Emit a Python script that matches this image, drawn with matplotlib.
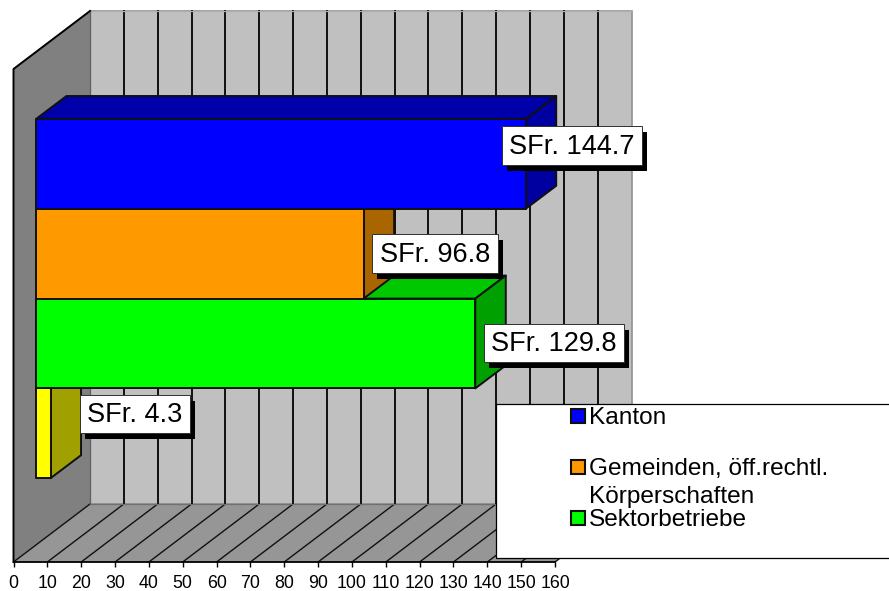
#!/usr/bin/python3

import matplotlib
matplotlib.use('Agg')
import matplotlib.pyplot as plt
from matplotlib.patches import Polygon, Rectangle

plt.rcParams['font.family'] = ['Liberation Sans', 'DejaVu Sans']

# data
series_names = ['Kanton', 'Gemeinden, öff.rechtl.\nKörperschaften', 'Sektorbetriebe', '']
series_values = [144.7, 96.8, 129.8, 4.3]
value_labels = ['SFr. 144.7', 'SFr. 96.8', 'SFr. 129.8', 'SFr. 4.3']
x_ticks = list(range(0, 170, 10))

# colours per bar: front, top, side
front_colors = ['#0000ff', '#ff9900', '#00ff00', '#ffff00']
top_colors = ['#0000aa', '#aa6600', '#00c800', '#aaaa00']
side_colors = ['#0000a0', '#a86500', '#00a000', '#a0a000']

W, H = 889, 591
x_left, x_right = 13.5, 555.0
y_top, y_bottom = 69.0, 562.0
unit = (x_right - x_left) / 160.0

# 3d offsets, x in value units, y in pixels
depth_x = 76.5 / unit
depth_y = -58.0
bar_start = 22.5 / unit
bar_dx = 30.5 / unit
bar_dy = -23.0
bar_y0 = 119.0
bar_h = 89.8

fig = plt.figure(figsize=(W / 100, H / 100), dpi=100)
ax = fig.add_axes([x_left / W, 1 - y_bottom / H, (x_right - x_left) / W, (y_bottom - y_top) / H])
ax.set_xlim(0, 160)
ax.set_ylim(y_bottom, y_top)
ax.patch.set_visible(False)
for s in ['top', 'left', 'right']:
    ax.spines[s].set_visible(False)
ax.spines['bottom'].set_linewidth(1.3)
ax.set_yticks([])
ax.set_xticks(x_ticks)
ax.tick_params(axis='x', length=3.6, width=1.0, pad=5.5, labelsize=12.8)

# walls and floor
wall_top = y_top + depth_y
wall_bottom = y_bottom + depth_y
ax.add_patch(Polygon([(depth_x, wall_top), (160 + depth_x, wall_top), (160 + depth_x, wall_bottom),
                      (depth_x, wall_bottom)], fc='#c0c0c0', ec='#909090', lw=1.2, clip_on=False, zorder=1))
ax.add_patch(Polygon([(0, y_top), (depth_x, wall_top), (depth_x, wall_bottom), (0, y_bottom)],
                     fc='#808080', ec='none', clip_on=False, zorder=1))
ax.add_patch(Polygon([(0, y_bottom), (depth_x, wall_bottom), (160 + depth_x, wall_bottom), (160, y_bottom)],
                     fc='#969696', ec='none', clip_on=False, zorder=1))
for t in x_ticks[1:-1]:
    ax.plot([t + depth_x, t + depth_x], [wall_top, wall_bottom], color='#101010', lw=1.4, clip_on=False, zorder=2)
for t in x_ticks:
    ax.plot([t, t + depth_x], [y_bottom, wall_bottom], color='#101010', lw=1.0, clip_on=False, zorder=2)
ax.plot([depth_x, 160 + depth_x], [wall_bottom, wall_bottom], color='#707070', lw=0.9, clip_on=False, zorder=2)
ax.plot([depth_x, depth_x], [wall_top, wall_bottom], color='#606060', lw=0.9, clip_on=False, zorder=2)
ax.plot([depth_x, 160 + depth_x], [wall_top, wall_top], color='#b0b0b0', lw=0.9, clip_on=False, zorder=2)
ax.plot([0, 0, depth_x], [y_bottom, y_top, wall_top], color='black', lw=1.4, clip_on=False, zorder=2)

# bars, lowest first so the upper ones cover its top face
edge = dict(ec='#101010', lw=1.4, clip_on=False, joinstyle='round')
for i in [3, 2, 1, 0]:
    x0 = bar_start
    x1 = bar_start + series_values[i]
    y0 = bar_y0 + i * bar_h
    y1 = y0 + bar_h
    z = 5 + (3 - i)
    ax.add_patch(Polygon([(x0, y0), (x0 + bar_dx, y0 + bar_dy), (x1 + bar_dx, y0 + bar_dy), (x1, y0)],
                         fc=top_colors[i], zorder=z, **edge))
    ax.add_patch(Polygon([(x1, y0), (x1 + bar_dx, y0 + bar_dy), (x1 + bar_dx, y1 + bar_dy), (x1, y1)],
                         fc=side_colors[i], zorder=z, **edge))
    ax.add_patch(Rectangle((x0, y0), x1 - x0, bar_h, fc=front_colors[i], zorder=z, **edge))

# overlay in pixel coordinates for value boxes and legend
over = fig.add_axes([0, 0, 1, 1])
over.set_xlim(0, W)
over.set_ylim(H, 0)
over.axis('off')
over.patch.set_visible(False)

# left, top, right, bottom of the label boxes
label_boxes = [(501.7, 126, 642, 165), (372, 234, 497.5, 273), (483.5, 323.5, 624, 362), (79.5, 395, 190, 433)]
for (l, t, r, b), txt in zip(label_boxes, value_labels):
    over.add_patch(Rectangle((l + 5, t + 6), r - l, b - t, fc='black', ec='none', zorder=10))
    over.add_patch(Rectangle((l, t), r - l, b - t, fc='white', ec='#303030', lw=0.7, zorder=11))
    over.text((l + r) / 2, (t + b) / 2 + 1.5, txt, ha='center', va='center', fontsize=19.5, color='#000000', zorder=12)

# legend
over.add_patch(Rectangle((495.5, 403.5), 400, 154, fc='white', ec='black', lw=0.9, zorder=13))
legend_y = [415.5, 466.5, 518]
for i, y in enumerate(legend_y):
    over.add_patch(Rectangle((570.5, y - 7), 14, 14, fc=front_colors[i], ec='#101010', lw=1.5, zorder=14))
    over.text(589, y, series_names[i].split('\n')[0], ha='left', va='center_baseline', fontsize=17.6, zorder=14)
    if '\n' in series_names[i]:
        over.text(589, y + 28.5, series_names[i].split('\n')[1], ha='left', va='center_baseline', fontsize=17.6, zorder=14)

fig.savefig('out.png', dpi=100)
